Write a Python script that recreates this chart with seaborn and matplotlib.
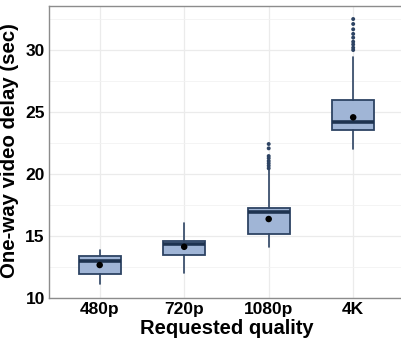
import numpy as np
import pandas as pd
import matplotlib
matplotlib.use("Agg")
import matplotlib.pyplot as plt
import seaborn as sns

# values (seconds)
qualities = ["480p", "720p", "1080p", "4K"]
q1 = [11.9, 13.45, 15.15, 23.55]
med = [13.0, 14.38, 16.9, 24.17]
q3 = [13.4, 14.6, 17.22, 26.0]
whislo = [11.1, 12.05, 14.1, 22.05]
whishi = [13.87, 16.05, 20.3, 29.4]
means = [12.66, 14.13, 16.37, 24.57]
outliers_1080p = [20.46, 20.67, 20.86, 21.05, 21.27, 21.45, 22.07, 22.42]
outliers_4k = [30.0, 30.19, 30.45, 30.67, 31.0, 31.3, 31.67, 32.1, 32.5]

fill = "#a0b5d6"
edge = "#2d4363"

sns.set_theme(style="white")
plt.rcParams["font.family"] = ["Liberation Sans", "DejaVu Sans"]

fig = plt.figure(figsize=(4.01, 3.41), dpi=100)
ax = fig.add_axes([0.1222, 0.1261, 0.885, 0.8563])

stats = []
for i, q in enumerate(qualities):
    stats.append(dict(label=q, q1=q1[i], med=med[i], q3=q3[i],
                      whislo=whislo[i], whishi=whishi[i], fliers=[]))

ax.bxp(stats, positions=range(len(qualities)), widths=0.5, patch_artist=True,
       showcaps=False, showfliers=False,
       boxprops=dict(facecolor=fill, edgecolor=edge, linewidth=1.3),
       whiskerprops=dict(color=edge, linewidth=1.2),
       medianprops=dict(color="#1e3350", linewidth=2.6), zorder=3)

df_mean = pd.DataFrame({"x": range(len(qualities)), "y": means})
sns.scatterplot(data=df_mean, x="x", y="y", color="black", s=22,
                edgecolor="none", ax=ax, zorder=5)

df_out = pd.DataFrame({
    "x": [2] * len(outliers_1080p) + [3] * len(outliers_4k),
    "y": outliers_1080p + outliers_4k,
})
sns.scatterplot(data=df_out, x="x", y="y", color=edge, s=8,
                edgecolor="none", ax=ax, zorder=4)

ax.set_xlim(-0.6, 3.6)
ax.set_ylim(10, 33.55)
ax.set_xticks(range(len(qualities)))
ax.set_xticklabels(qualities)
ax.set_yticks([10, 15, 20, 25, 30])
ax.set_yticks([12.5, 17.5, 22.5, 27.5, 32.5], minor=True)

ax.grid(True, which="major", color="#ebebeb", linewidth=0.9, zorder=0)
ax.grid(True, which="minor", axis="y", color="#f2f2f2", linewidth=0.6, zorder=0)
ax.set_axisbelow(True)

for s in ["left", "bottom", "top"]:
    ax.spines[s].set_color("#8c8c8c")
    ax.spines[s].set_linewidth(1.0)
ax.spines["right"].set_visible(False)

ax.tick_params(axis="both", which="both", length=0, pad=3)
for lab in ax.get_xticklabels() + ax.get_yticklabels():
    lab.set_fontsize(12.5)
    lab.set_fontweight("bold")
    lab.set_color("black")

ax.set_xlabel("Requested quality", fontsize=14.5, fontweight="bold",
              color="black", labelpad=1)
ax.set_ylabel("One-way video delay (sec)", fontsize=14.7, fontweight="bold",
              color="black", labelpad=2)
ax.yaxis.set_label_coords(-0.085, 0.505)

fig.savefig("out.png", dpi=100)
